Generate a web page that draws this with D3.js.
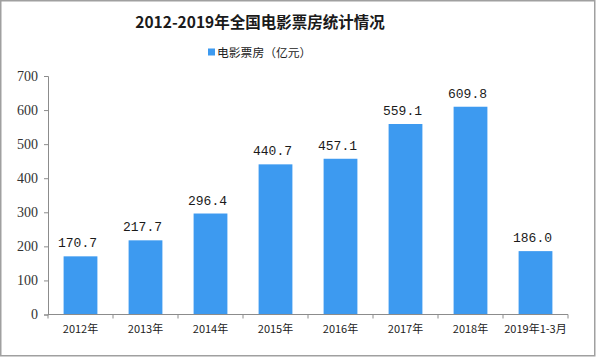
<!DOCTYPE html>
<html><head><meta charset="utf-8">
<script src="https://cdn.jsdelivr.net/npm/d3@7"></script>
<style>
html,body{margin:0;padding:0;background:#fff;}
</style>
</head><body>
<svg id="chart" width="600" height="361"></svg>
<script>
const categories = ["2012年","2013年","2014年","2015年","2016年","2017年","2018年","2019年1-3月"];
const values = [170.7, 217.7, 296.4, 440.7, 457.1, 559.1, 609.8, 186.0];
const yTicks = [0,100,200,300,400,500,600,700];
const titleText = "2012-2019年全国电影票房统计情况";
const legendText = "电影票房（亿元）";

const svg = d3.select("#chart");
const W = 600, H = 361;
const margin = {left:48, right:32, top:76, bottom:46.5};
const barColor = "#3d9af0";
const axisColor = "#8c8c8c";

// outer frame
svg.append("rect").attr("x",0.75).attr("y",0.75).attr("width",594).attr("height",355)
  .attr("fill","#fff").attr("stroke","#a0a0a0").attr("stroke-width",1.5);

const x = d3.scaleBand().domain(categories).range([48, 568]).paddingInner(0.48).paddingOuter(0.24);
const y = d3.scaleLinear().domain([0,700]).range([314.5, 76]);

// title
svg.append("text").attr("x",260).attr("y",27.5).attr("text-anchor","middle")
  .attr("font-family","'Noto Sans CJK SC', 'Liberation Serif', serif").attr("font-weight","bold")
  .attr("font-size",15.5).attr("fill","#1a1a1a").text(titleText);

// legend
svg.append("rect").attr("x",208).attr("y",48.5).attr("width",7).attr("height",7).attr("fill",barColor);
svg.append("text").attr("x",217).attr("y",57).attr("font-family","'Noto Sans CJK SC', sans-serif")
  .attr("font-size",11.8).attr("fill","#222").text(legendText);

// y axis
const yAxis = d3.axisLeft(y).tickValues(yTicks).tickSize(4).tickPadding(6).tickFormat(d3.format("d"));
const gy = svg.append("g").attr("transform","translate(48,0)").call(yAxis);
gy.select(".domain").attr("stroke",axisColor);
gy.selectAll(".tick line").attr("stroke",axisColor);
gy.selectAll(".tick text").attr("font-family","'Liberation Serif', serif").attr("font-size",14).attr("fill","#333");

// bars
svg.append("g").selectAll("rect").data(values).join("rect")
  .attr("x",(d,i)=>x(categories[i]))
  .attr("y",d=>y(d))
  .attr("width",x.bandwidth())
  .attr("height",d=>y(0)-y(d))
  .attr("fill",barColor);

// value labels
svg.append("g").selectAll("text").data(values).join("text")
  .attr("x",(d,i)=>x(categories[i]) + x.bandwidth()/2 - 3)
  .attr("y",d=>y(d) - 9)
  .attr("text-anchor","middle")
  .attr("font-family","'Liberation Mono', monospace")
  .attr("font-size",13).attr("fill","#1a1a1a")
  .text(d=>d.toFixed(1));

// x axis
const gx = svg.append("g").attr("transform",`translate(0,${y(0)})`);
gx.append("line").attr("x1",48).attr("x2",568).attr("y1",0).attr("y2",0).attr("stroke",axisColor);
const step = x.step();
const boundaries = d3.range(categories.length+1).map(i => 48 + i*65);
gx.selectAll("line.tk").data(boundaries).join("line").attr("class","tk")
  .attr("x1",d=>d).attr("x2",d=>d).attr("y1",0).attr("y2",4).attr("stroke",axisColor);
gx.selectAll("text").data(categories).join("text")
  .attr("x",d=>x(d)+x.bandwidth()/2).attr("y",18.5)
  .attr("text-anchor","middle")
  .attr("font-family","'Noto Sans CJK SC', 'Liberation Sans', sans-serif")
  .attr("font-size",11).attr("fill","#222")
  .text(d=>d);
</script>
</body></html>
